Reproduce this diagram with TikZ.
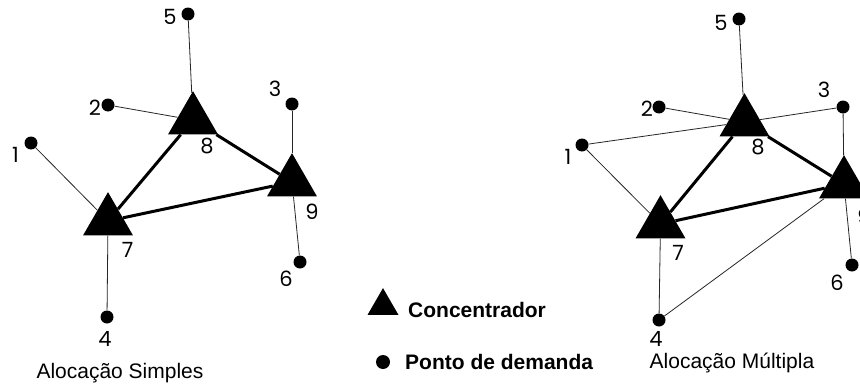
\documentclass[tikz,border=0pt]{standalone}
\usepackage{fontspec}
\usetikzlibrary{shapes.geometric}
\newfontfamily\geofont{Poppins}
\newfontfamily\legfont{Liberation Sans}
\begin{document}
\begin{tikzpicture}[x=1pt,y=-1pt,
  conc/.style={regular polygon,regular polygon sides=3,minimum size=57.7pt,inner sep=0pt,fill=black,draw=none},
  dem/.style={circle,fill=black,minimum size=13pt,inner sep=0pt},
  thinedge/.style={line width=0.8pt,black!85},
  thickedge/.style={line width=3pt,black},
  lbl/.style={font=\geofont\fontsize{21}{21}\selectfont,inner sep=0pt,text height=14.7pt,text depth=0pt},
  captxt/.style={font=\legfont\fontsize{21}{21}\selectfont,inner sep=0pt,anchor=base,text height=15pt,text depth=4pt},
  leg/.style={font=\legfont\bfseries\fontsize{21}{21}\selectfont,inner sep=0pt,anchor=base west}]
\useasboundingbox (0,0) rectangle (860,388);
\fill[white] (0,0) rectangle (860,388);

% ---------- left: Alocacao Simples ----------
\node[conc] (L8) at (193,120) {};
\node[conc] (L9) at (292,182) {};
\node[conc] (L7) at (108,221) {};
\node[dem] (L5) at (188,14) {};
\node[dem] (L2) at (108,105) {};
\node[dem] (L1) at (31,143) {};
\node[dem] (L3) at (292,104) {};
\node[dem] (L6) at (300,262) {};
\node[dem] (L4) at (107,317) {};
\draw[thinedge] (L5) -- (L8);
\draw[thinedge] (L2) -- (L8);
\draw[thinedge] (L1) -- (L7);
\draw[thinedge] (L3) -- (L9);
\draw[thinedge] (L6) -- (L9);
\draw[thinedge] (L4) -- (L7);
\draw[thickedge] (L7) -- (L8);
\draw[thickedge] (L8) -- (L9);
\draw[thickedge] (L7) -- (L9);
\node[lbl] (lL5) at (170,17) {5};
\node[lbl] (lL2) at (95,108) {2};
\node[lbl] (lL1) at (15.5,155) {1};
\node[lbl] (lL3) at (275,89) {3};
\node[lbl] (lL6) at (286,279) {6};
\node[lbl] (lL4) at (105,339) {4};
\node[lbl] (lL8) at (207,146) {8};
\node[lbl] (lL9) at (312,212) {9};
\node[lbl] (lL7) at (127.5,250) {7};
\node[captxt] (capL) at (120,378) {Alocação Simples};

% ---------- right: Alocacao Multipla ----------
\node[conc] (R8) at (744.5,122) {};
\node[conc] (R9) at (844,184) {};
\node[conc] (R7) at (660.5,224) {};
\node[dem] (R5) at (739,19) {};
\node[dem] (R2) at (659,107) {};
\node[dem] (R1) at (582,145) {};
\node[dem] (R3) at (843,107) {};
\node[dem] (R6) at (852,265) {};
\node[dem] (R4) at (659,320) {};
\draw[thinedge] (R5) -- (R8);
\draw[thinedge] (R2) -- (R8);
\draw[thinedge] (R1) -- (R8);
\draw[thinedge] (R1) -- (R7);
\draw[thinedge] (R3) -- (R8);
\draw[thinedge] (R3) -- (R9);
\draw[thinedge] (R6) -- (R9);
\draw[thinedge] (R4) -- (R7);
\draw[thinedge] (R4) -- (R9);
\draw[thickedge] (R7) -- (R8);
\draw[thickedge] (R8) -- (R9);
\draw[thickedge] (R7) -- (R9);
\node[lbl] (lR5) at (721,23) {5};
\node[lbl] (lR2) at (647,109) {2};
\node[lbl] (lR1) at (568,157) {1};
\node[lbl] (lR3) at (824,90) {3};
\node[lbl] (lR6) at (837,283) {6};
\node[lbl] (lR4) at (656,339.5) {4};
\node[lbl] (lR8) at (758,147) {8};
\node[lbl] (lR9) at (864,217) {9};
\node[lbl] (lR7) at (678,253) {7};
\node[captxt] (capR) at (732,368.5) {Alocação Múltipla};

% ---------- legend ----------
\node[regular polygon,regular polygon sides=3,minimum size=35.8pt,inner sep=0pt,fill=black] (legT) at (383,306) {};
\node[circle,fill=black,minimum size=14pt,inner sep=0pt] (legD) at (383,362) {};
\node[leg] (legC) at (408,317) {Concentrador};
\node[leg] (legP) at (405,369) {Ponto de demanda};
\end{tikzpicture}
\end{document}
